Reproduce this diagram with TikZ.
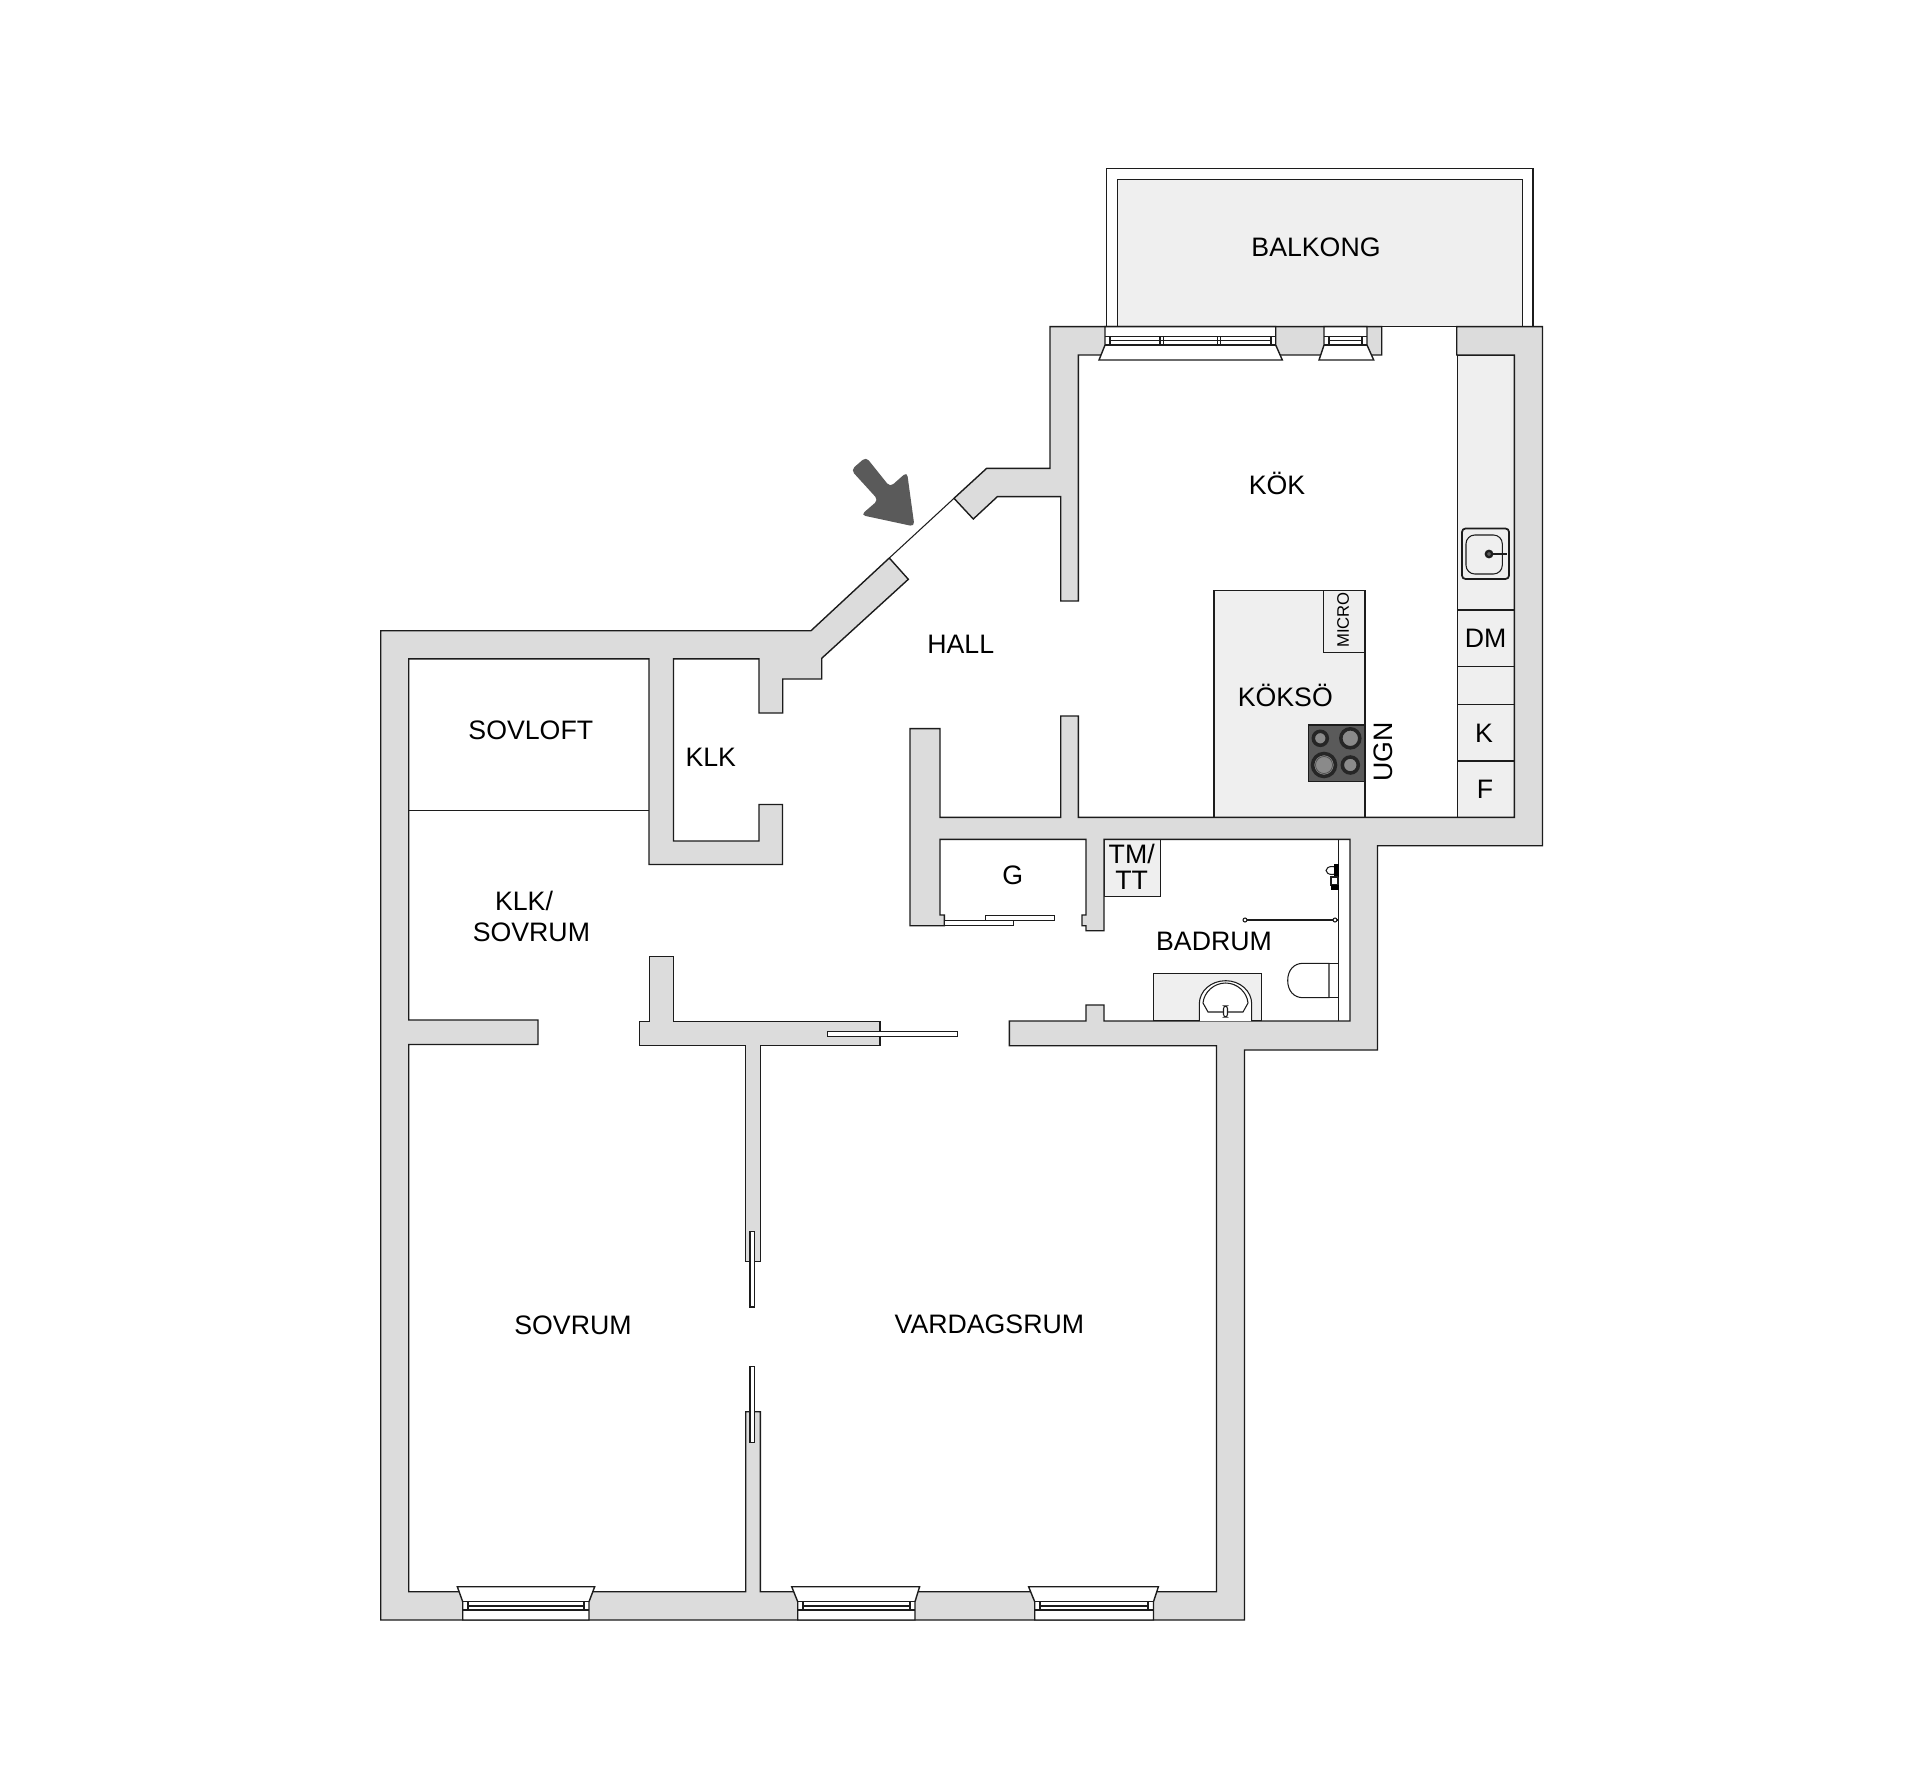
\documentclass[tikz,border=0pt]{standalone}
\usepackage{fontspec}
\setmainfont{Liberation Sans}
\definecolor{wallgray}{HTML}{DCDCDC}
\definecolor{fitgray}{HTML}{EFEFEF}
\definecolor{darkgray}{HTML}{5A5A5A}
\definecolor{hobgray}{HTML}{8A8A8A}
\definecolor{inkgray}{HTML}{1C1C1C}
\begin{document}
\begin{tikzpicture}[x=0.02cm,y=-0.02cm,
		line join=miter,
		wall/.style={draw=inkgray, fill=wallgray, line width=0.8pt},
		fitting/.style={draw=inkgray, fill=fitgray, line width=0.7pt},
		blank/.style={draw=inkgray, fill=white, line width=0.8pt},
		fine/.style={draw=inkgray, line width=0.6pt},
		roomtext/.style={font=\fontsize{15.2}{15}\selectfont, text=black, inner sep=0pt, text height=10.9pt, text depth=0pt},
		smalltext/.style={font=\fontsize{9.5}{10}\selectfont, text=black, inner sep=0pt, text height=6.8pt, text depth=0pt},
		burner/.style={draw=black!85, fill=hobgray, line width=2pt}
	]
	\useasboundingbox[fill=white] (0,0) rectangle (1920,1787);

	% balcony
	\draw[blank] (1106.7,326.7) -- (1106.7,168.7) -- (1533,168.7) -- (1533,326.7);
	\draw[fitting] (1117.7,326.7) -- (1117.7,179.3) -- (1522.3,179.3) -- (1522.3,326.7) -- cycle;

	% fittings under the walls
	\draw[fitting] (1457.3,355) rectangle (1514.3,817.3);
	\draw[fitting] (1214,590.3) rectangle (1365,817.3);
	\draw[fitting] (1104,839.3) rectangle (1160.7,896.3);
	\draw[fitting] (1153.7,973.7) rectangle (1261.7,1021);

	% walls
	\draw[wall] (954,498.3) coordinate (doorTop) -- (986.7,468.3) -- (1050,468.3) -- (1050,326.7) -- (1381.7,326.7) -- (1381.7,355) -- (1078.3,355) -- (1078.3,601) -- (1060.7,601) -- (1060.7,496.7) -- (997.3,496.7) -- (973.3,519) -- cycle;
	\draw[wall] (1456.7,326.7) -- (1542.5,326.7) -- (1542.5,845.7) -- (1377.5,845.7) -- (1377.5,1050) -- (1244.5,1050) -- (1244.5,1620) -- (380.7,1620) -- (380.7,630.7) -- (811,630.7)
		-- (889.3,558) coordinate (doorBottom) -- (908.3,579.3) -- (821.7,658.3) -- (821.7,679) -- (782.7,679) -- (782.7,713) -- (759,713) -- (759,658.8) -- (673.5,658.8) -- (673.5,841) -- (759,841) -- (759,804.5) -- (782.5,804.5) -- (782.5,864.5) -- (649,864.5) -- (649,658.8)
		-- (408.7,658.8) -- (408.7,1020) -- (538,1020) -- (538,1044.5) -- (408.7,1044.5) -- (408.7,1591.7) -- (745.7,1591.7) -- (745.7,1411.7) -- (760.3,1411.7) -- (760.3,1591.7) -- (1216.5,1591.7) -- (1216.5,1045.7)
		-- (1009.3,1045.7) -- (1009.3,1021) -- (1086,1021) -- (1086,1005) -- (1104,1005) -- (1104,1021) -- (1350,1021) -- (1350,839.3) -- (1104,839.3) -- (1104,930.7) -- (1086,930.7) -- (1086,925.7) -- (1082,925.7) -- (1082,915) -- (1086,915) -- (1086,839.3)
		-- (940,839.3) -- (940,915) -- (944.3,915) -- (944.3,925.7) -- (910,925.7) -- (910,728.6) -- (940,728.6) -- (940,817.3) -- (1060.7,817.3) -- (1060.7,716) -- (1078.3,716) -- (1078.3,817.3) -- (1514.3,817.3) -- (1514.3,355) -- (1456.7,355) -- cycle;
	\draw[wall] (649.3,956.7) -- (673.3,956.7) -- (673.3,1021.3) -- (880,1021.3) -- (880,1045.7) -- (760.3,1045.7) -- (760.3,1261.7) -- (745.7,1261.7) -- (745.7,1045.7) -- (639.3,1045.7) -- (639.3,1021.3) -- (649.3,1021.3) -- cycle;
	\draw[fine] (doorBottom) -- (doorTop);
	\draw[fine, line width=0.45pt] (408.7,810) -- (649,810);

	% sliding doors
	\draw[blank] (827.7,1031.7) rectangle (957.3,1036.7);
	\draw[blank] (750,1231.7) rectangle (754.7,1307);
	\draw[blank] (750,1366.7) rectangle (754.7,1442.3);
	\draw[blank] (944.3,920.7) rectangle (1013.3,925.5);
	\draw[blank] (985.7,915.7) rectangle (1054.7,920.7);

	% windows, bottom wall
	\draw[blank] (462.7,1620) -- (462.7,1601.7) -- (457.3,1586.7) -- (594.7,1586.7) -- (589,1601.7) -- (589,1620) -- cycle;
	\draw[fine] (462.7,1601.7) -- (589,1601.7) (468,1606) -- (584,1606) (462.7,1610) -- (589,1610) (468,1601.7) -- (468,1610) (584,1601.7) -- (584,1610);
	\draw[blank] (797.7,1620) -- (797.7,1601.7) -- (791.7,1586.7) -- (919.6,1586.7) -- (915,1601.7) -- (915,1620) -- cycle;
	\draw[fine] (797.7,1601.7) -- (915,1601.7) (803,1606) -- (910,1606) (797.7,1610) -- (915,1610) (803,1601.7) -- (803,1610) (910,1601.7) -- (910,1610);
	\draw[blank] (1034.7,1620) -- (1034.7,1601.7) -- (1028.6,1586.7) -- (1158.4,1586.7) -- (1153.5,1601.7) -- (1153.5,1620) -- cycle;
	\draw[fine] (1034.7,1601.7) -- (1153.5,1601.7) (1040,1606) -- (1148,1606) (1034.7,1610) -- (1153.5,1610) (1040,1601.7) -- (1040,1610) (1148,1601.7) -- (1148,1610);

	% windows, top wall
	\draw[blank] (1105,326.7) -- (1275.7,326.7) -- (1275.7,345) -- (1282.3,360) -- (1099,360) -- (1105,345) -- cycle;
	\draw[fine] (1105,336.7) -- (1275.7,336.7) (1110,340.7) -- (1270.5,340.7) (1105,345) -- (1275.7,345);
	\draw[fine] (1110,336.7) -- (1110,345) (1160,336.7) -- (1160,345) (1163.3,336.7) -- (1163.3,345) (1217.3,336.7) -- (1217.3,345) (1220.7,336.7) -- (1220.7,345) (1271,336.7) -- (1271,345);
	\draw[blank] (1324,326.7) -- (1367,326.7) -- (1367,345) -- (1373.7,360) -- (1319,360) -- (1324,345) -- cycle;
	\draw[fine] (1324,336.7) -- (1367,336.7) (1329,340.7) -- (1362,340.7) (1324,345) -- (1367,345) (1329,336.7) -- (1329,345) (1362,336.7) -- (1362,345);

	% kitchen
	\draw[fine] (1458,610) -- (1514.3,610) (1458,666.7) -- (1514.3,666.7) (1458,704.3) -- (1514.3,704.3) (1458,761) -- (1514.3,761);
	\draw[fine, line width=1pt, rounded corners=2] (1462,528.5) rectangle (1509,579);
	\draw[fine, rounded corners=5] (1466,535) rectangle (1502.3,574);
	\draw[fine, line width=1.2pt] (1489,554) -- (1506.7,554);
	\draw[inkgray, fill=darkgray, line width=1.3pt] (1489,554) circle (3.2);
	\draw[fine] (1323.3,590.3) rectangle (1365,652.7);
	\draw[draw=inkgray, fill=darkgray, line width=0.6pt] (1308.3,725) rectangle (1365,781.7);
	\draw[burner] (1320.3,738.3) circle (7);
	\draw[burner] (1350.3,738.3) circle (9.5);
	\draw[burner] (1324,765) circle (11.5);
	\draw[burner] (1350.3,765) circle (8);
	\draw[draw=black!70, line width=0.4pt] (1324,765) circle (8.5);

	% bathroom
	\draw[fine] (1338.7,839.3) -- (1338.7,1021);
	\draw[fine, line width=1.1pt] (1245,920) -- (1338.7,920);
	\draw[fine, fill=white] (1245,920) circle (2);
	\draw[fine, fill=white] (1335,920) circle (2);
	\draw[fine, fill=white] (1329,963.3) -- (1303,963.3) .. controls (1294,963.3) and (1287.7,970) .. (1287.7,980.5) .. controls (1287.7,991) and (1294,997.7) .. (1303,997.7) -- (1329,997.7) -- cycle;
	\draw[fine] (1329,963.3) -- (1338.7,963.3) (1329,997.7) -- (1338.7,997.7);
	\draw[fine, fill=white] (1199.3,1021) -- (1199.3,1004) .. controls (1199.3,991) and (1211,980.7) .. (1225.7,980.7) .. controls (1240,980.7) and (1251.7,991) .. (1251.7,1004) -- (1251.7,1021);
	\draw[fine, fill=white] (1208,1012) -- (1203,1003) .. controls (1204,992) and (1214,983) .. (1225.7,983) .. controls (1237,983) and (1247,992) .. (1248,1003) -- (1243,1012) -- cycle;
	\draw[fine, fill=white, rounded corners=1.5] (1223.5,1006) rectangle (1227.5,1017);
	% shower fittings
	\draw[fine, fill=white] (1332,870.5) ellipse (6 and 4);
	\draw[draw=black, fill=black] (1334,864) rectangle (1338.7,876);
	\draw[fine, fill=white, line width=1pt] (1331,877) rectangle (1337.5,885);
	\draw[draw=black, fill=black] (1331,885) rectangle (1338.7,889.3);

	% entrance arrow
	\fill[darkgray, rounded corners=2.5] (914.5,526.5) -- (861,515) -- (878.3,500) -- (851,470) -- (866,457) -- (890,487) -- (907,472) -- cycle;

	% labels
	\node[roomtext] (balkong) at (1316,247.3) {BALKONG};
	\node[roomtext] (kok) at (1277,484.5) {KÖK};
	\node[roomtext] (koksoe) at (1285.3,697.3) {KÖKSÖ};
	\node[smalltext, rotate=90] (micro) at (1343,620) {MICRO};
	\node[roomtext, rotate=90] (ugn) at (1382.7,751.7) {UGN};
	\node[roomtext] (dm) at (1485.7,638.3) {DM};
	\node[roomtext] (kyl) at (1484,732.7) {K};
	\node[roomtext] (frys) at (1485,789) {F};
	\node[roomtext] (hall) at (960.7,644) {HALL};
	\node[roomtext] (sovloft) at (530.8,730.4) {SOVLOFT};
	\node[roomtext] (klk) at (710.8,757.3) {KLK};
	\node[roomtext] (klksov) at (524,901) {KLK/};
	\node[roomtext] (sovklk) at (531.4,932) {SOVRUM};
	\node[roomtext] (forrad) at (1012.7,875) {G};
	\node[roomtext] (tm) at (1131.7,854) {TM/};
	\node[roomtext] (tt) at (1131.7,880) {TT};
	\node[roomtext] (badrum) at (1214,940.7) {BADRUM};
	\node[roomtext] (sovrum) at (573,1325) {SOVRUM};
	\node[roomtext] (vardagsrum) at (989.4,1323.7) {VARDAGSRUM};
\end{tikzpicture}
\end{document}
